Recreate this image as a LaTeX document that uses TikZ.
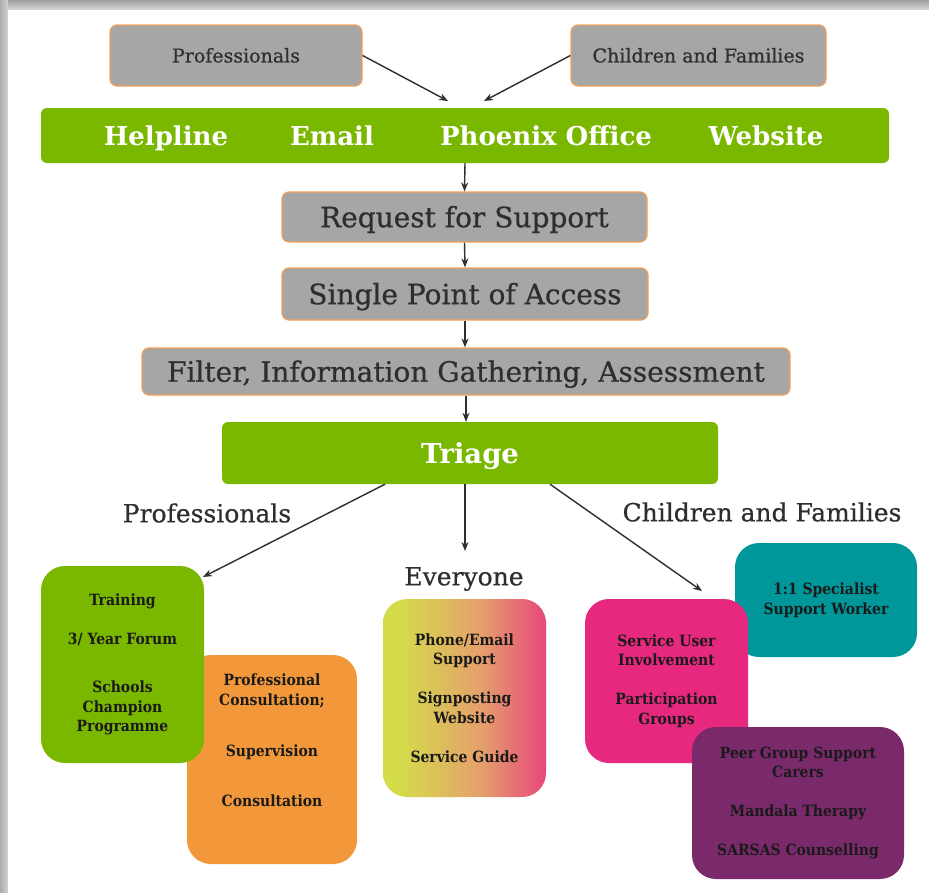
\documentclass[tikz,border=0pt]{standalone}
\usepackage{fontspec}
\setmainfont{DejaVu Serif}
\newfontfamily\boxfont{DejaVu Serif}[FakeStretch=0.9]
\newfontfamily\medfont{DejaVu Serif}[FakeBold=0.6]
\usetikzlibrary{arrows.meta}
\definecolor{boxgray}{HTML}{A6A6A6}
\definecolor{boxedge}{HTML}{F2A15A}
\definecolor{lime}{HTML}{7AB800}
\definecolor{txtdark}{HTML}{2E2E2E}
\definecolor{txtblack}{HTML}{1A1A1A}
\definecolor{orng}{HTML}{F2983A}
\definecolor{pnk}{HTML}{E6297F}
\definecolor{tealc}{HTML}{00979A}
\definecolor{purp}{HTML}{7A2A6A}
\definecolor{gylw}{HTML}{D4DC4A}
\definecolor{gmid}{HTML}{E5A06C}
\definecolor{gpnk}{HTML}{E8307E}
\pgfdeclarehorizontalshading{evgrad}{100bp}{color(0bp)=(gylw); color(30bp)=(gylw); color(55bp)=(gmid); color(80bp)=(gpnk); color(100bp)=(gpnk)}
\tikzset{
  topbox/.style={draw=boxedge, line width=1.2pt, fill=boxgray, rounded corners=7pt, text=txtdark, text height=13.9pt, text depth=0pt, font=\medfont\fontsize{19}{22}\selectfont},
  stepbox/.style={draw=boxedge, line width=1.2pt, fill=boxgray, rounded corners=7pt, text=txtdark, text height=20.4pt, text depth=0pt, font=\medfont\fontsize{28}{32}\selectfont},
  greenbar/.style={fill=lime, rounded corners=6pt},
  bartext/.style={text=white, text height=19pt, text depth=0pt, font=\bfseries\fontsize{26}{30}\selectfont},
  lbl/.style={text=txtdark, font=\medfont\fontsize{25}{29}\selectfont},
  bigbox/.style={rounded corners=24pt, text=txtblack, align=center, font=\boxfont\bfseries\fontsize{15.5}{19.5}\selectfont},
  arr/.style={draw=txtdark, line width=1.4pt, -{Stealth[length=9pt,width=7pt]}},
}
\begin{document}
\begin{tikzpicture}[x=1pt,y=-1pt]
\useasboundingbox (0,0) rectangle (929,892);
% frame shadow
\fill[gray!50] (0,0) rectangle (929,892);
\shade[top color=gray!75, bottom color=gray!30] (0,0) rectangle (929,10);
\shade[left color=gray!65, right color=gray!35] (0,0) rectangle (8,892);
\fill[white] (8,10) rectangle (929,892);

% top sources
\node[topbox, minimum width=252pt, minimum height=61pt] (prof) at (236,55.5) {Professionals};
\node[topbox, minimum width=255pt, minimum height=61pt] (chf) at (698.5,55.5) {Children and Families};

% green bar
\node[greenbar, minimum width=848pt, minimum height=55pt] (bar) at (465,135.5) {};
\node[bartext] (help) at (166,135.5) {Helpline};
\node[bartext] (email) at (332,135.5) {Email};
\node[bartext] (phx) at (546,135.5) {Phoenix Office};
\node[bartext] (web) at (766,135.5) {Website};

\coordinate (in1) at (448,101);
\coordinate (in2) at (484,101);
\draw[arr] (prof.east) -- (in1);
\draw[arr] (chf.west) -- (in2);

% steps
\node[stepbox, minimum width=365pt, minimum height=50pt] (req) at (464.5,217) {Request for Support};
\node[stepbox, minimum width=366pt, minimum height=52pt] (spa) at (465,294) {Single Point of Access};
\node[stepbox, minimum width=648pt, minimum height=47pt] (fil) at (466,371.5) {Filter, Information Gathering, Assessment};
\node[greenbar, text height=20pt, text depth=0pt, minimum width=496pt, minimum height=62pt, text=white, font=\bfseries\fontsize{27.5}{30}\selectfont] (tri) at (470,453) {Triage};

\draw[arr] (bar.south) -- (req.north);
\draw[arr] (req.south) -- (spa.north);
\draw[arr] (spa.south) -- (spa.south |- fil.north);
\draw[arr] (fil.south) -- (fil.south |- tri.north);

% labels
\node[lbl] (lprof) at (207,513) {Professionals};
\node[lbl] (lchf) at (762,512) {Children and Families};
\node[lbl] (lev) at (464,579) {Everyone};

% bottom boxes
\node[bigbox, fill=orng, minimum width=170pt, minimum height=209pt] (cons) at (272,759.5) {};
\node[bigbox] (constxt) at (272,740) {Professional\\Consultation;\\[32pt]Supervision\\[30pt]Consultation};
\node[bigbox, fill=lime, minimum width=163pt, minimum height=197pt] (train) at (122.5,664.5) {Training\\[19.5pt]3/ Year Forum\\[29pt]Schools\\Champion\\Programme};
\node[bigbox, shading=evgrad, minimum width=163pt, minimum height=198pt] (ev) at (464.5,698) {Phone/Email\\Support\\[19.5pt]Signposting\\Website\\[19.5pt]Service Guide};
\node[bigbox, fill=tealc, minimum width=182pt, minimum height=114pt] (one) at (826,600) {1:1 Specialist\\Support Worker};
\node[bigbox, fill=pnk, minimum width=163pt, minimum height=164pt] (sui) at (666.5,681) {Service User\\Involvement\\[19.5pt]Participation\\Groups};
\node[bigbox, fill=purp, minimum width=212pt, minimum height=152pt] (peer) at (798,803) {Peer Group Support\\Carers\\[19.5pt]Mandala Therapy\\[19.5pt]SARSAS Counselling};

% triage arrows
\coordinate (tgt1) at (203,577);
\coordinate (tgt2) at (465,551);
\coordinate (tgt3) at (702,591);
\draw[arr] ([xshift=-85pt]tri.south) -- (tgt1);
\draw[arr] ([xshift=-5pt]tri.south) -- (tgt2);
\draw[arr] ([xshift=80pt]tri.south) -- (tgt3);
\end{tikzpicture}
\end{document}
